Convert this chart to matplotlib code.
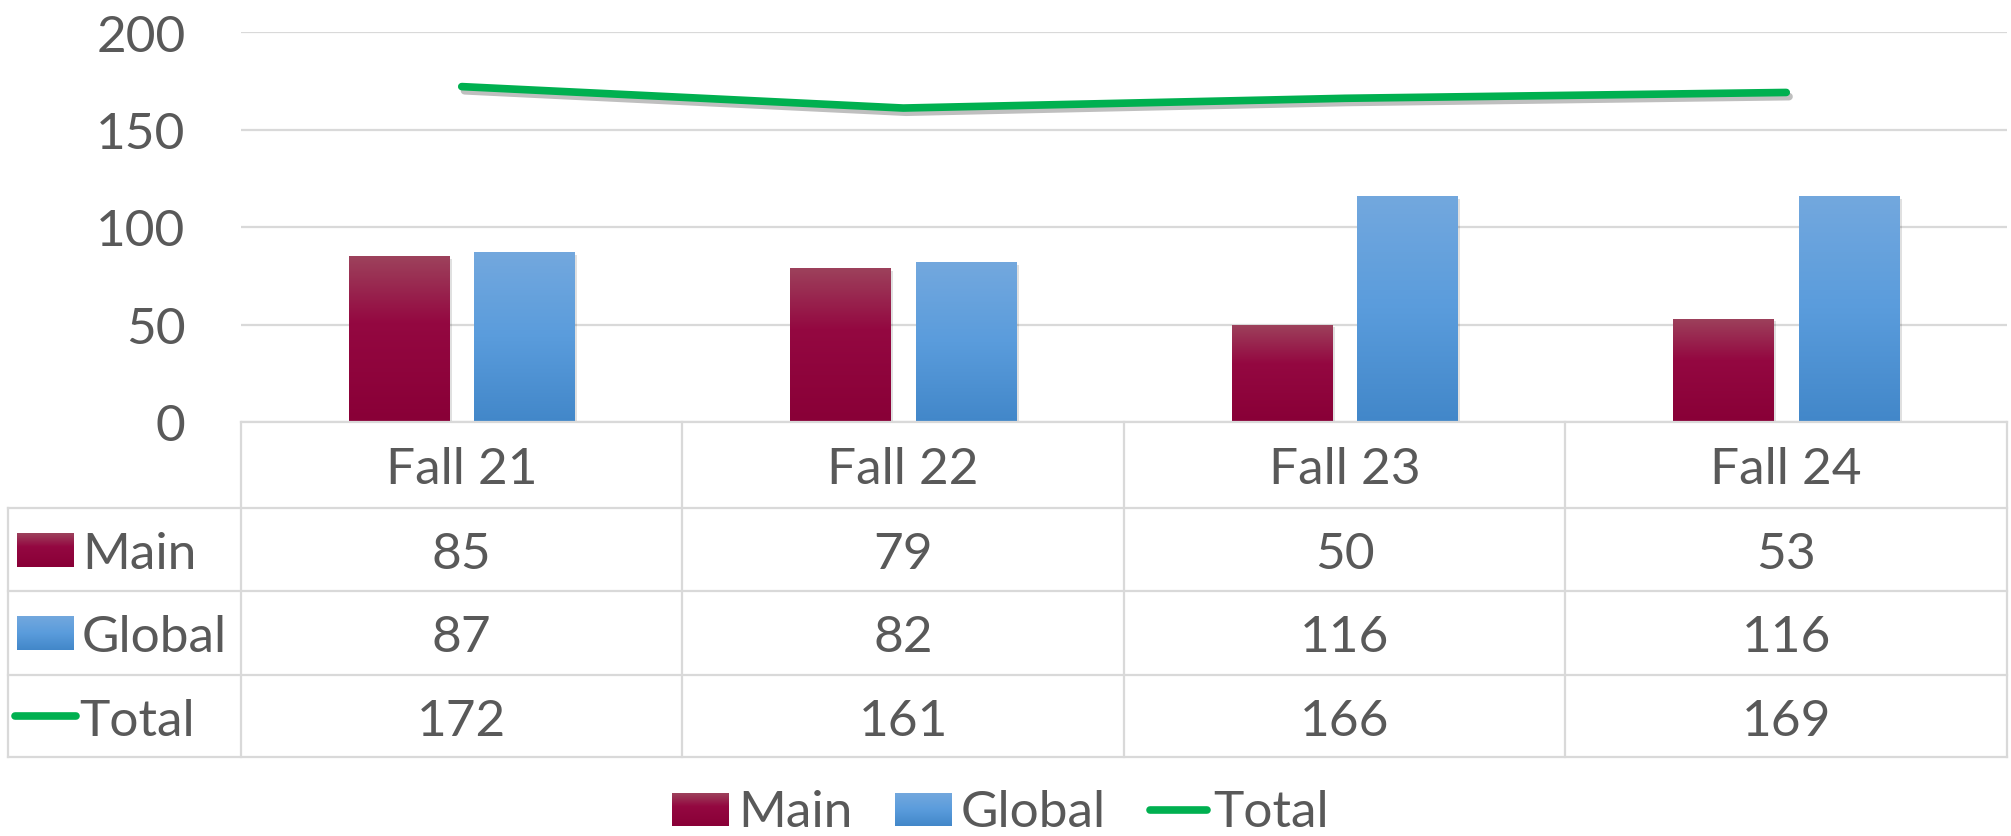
import numpy as np
import matplotlib

matplotlib.use('Agg')
import matplotlib.pyplot as plt
import matplotlib.patheffects as pe

# data
categories = ['Fall 21', 'Fall 22', 'Fall 23', 'Fall 24']
main = [85, 79, 50, 53]
global_ = [87, 82, 116, 116]
total = [172, 161, 166, 169]
series_names = ['Main', 'Global', 'Total']
yticks = [0, 50, 100, 150, 200]

# look
W, H = 2011, 837
TEXT = '#595959'
GRID = '#D9D9D9'
GREEN = '#00B050'
FS = 37          # points, ~37 px cap height at dpi 100
CAP = 37         # cap height in px, for baseline placement
MAIN_STOPS = [(0.0, (157, 66, 92)), (0.4, (148, 8, 65)), (1.0, (137, 0, 55))]
GLOBAL_STOPS = [(0.0, (115, 168, 222)), (0.5, (90, 156, 220)), (1.0, (66, 135, 201))]

plt.rcParams['font.family'] = ['Lato', 'DejaVu Sans']


def gradient(stops, n=256):
    t = np.linspace(0, 1, n)
    pos = [s[0] for s in stops]
    cols = np.array([s[1] for s in stops]) / 255
    img = np.stack([np.interp(t, pos, cols[:, k]) for k in range(3)], axis=1)
    return img[:, None, :]


fig = plt.figure(figsize=(W / 100, H / 100), dpi=100)

# plot area in pixels
left, right, top, base = 241, 2007, 33, 423
ax = fig.add_axes([left / W, 1 - base / H, (right - left) / W, (base - top) / H])
ax.set_xlim(-0.5, len(categories) - 0.5)
ax.set_ylim(0, 200)

x = np.arange(len(categories))
bw, off = 0.227, 0.142
shadow = [pe.SimplePatchShadow(offset=(2, -2), shadow_rgbFace='black', alpha=0.12)]
for vals, stops, dx in [(main, MAIN_STOPS, -off), (global_, GLOBAL_STOPS, off)]:
    bars = ax.bar(x + dx, vals, width=bw, color=np.array(stops[-1][1]) / 255,
                  zorder=3, path_effects=shadow)
    for r in bars:
        im = ax.imshow(gradient(stops), extent=(r.get_x(), r.get_x() + r.get_width(), 0, r.get_height()),
                       origin='upper', aspect='auto', zorder=4, interpolation='bilinear')
        im.set_clip_path(r)

ax.plot(x, total, color=GREEN, lw=5.5, solid_capstyle='round', zorder=6, clip_on=False,
        path_effects=[pe.SimpleLineShadow(offset=(2, -3), alpha=0.25), pe.Normal()])

ax.set_xlim(-0.5, len(categories) - 0.5)
ax.set_ylim(0, 200)
ax.set_yticks(yticks)
ax.set_xticks([])
ax.tick_params(axis='y', length=0, pad=40, labelsize=FS, labelcolor=TEXT)
ax.grid(axis='y', color=GRID, lw=1.6, zorder=0)
ax.set_axisbelow(True)
for s in ax.spines.values():
    s.set_visible(False)

# data table + legend, drawn in pixel coordinates
ov = fig.add_axes([0, 0, 1, 1], facecolor='none')
ov.set_xlim(0, W)
ov.set_ylim(H, 0)
ov.axis('off')

col_w = (right - left) / len(categories)
col_edges = [left + col_w * i for i in range(len(categories) + 1)]
row_edges = [423, 509, 592, 676, 758]
tab_left = 8

ov.plot([left, right], [row_edges[0]] * 2, color=GRID, lw=1.6)
for y in row_edges[1:]:
    ov.plot([tab_left, right], [y, y], color=GRID, lw=1.6)
ov.plot([tab_left, tab_left], [row_edges[1], row_edges[-1]], color=GRID, lw=1.6)
for xe in col_edges:
    ov.plot([xe, xe], [row_edges[0], row_edges[-1]], color=GRID, lw=1.6)


def baseline(y0, y1):
    return (y0 + y1) / 2 + CAP / 2


for i, c in enumerate(categories):
    ov.text(left + col_w * (i + 0.5), baseline(row_edges[0], row_edges[1]), c,
            ha='center', va='baseline', fontsize=FS, color=TEXT)

rows = [main, global_, total]
for r, (name, vals) in enumerate(zip(series_names, rows)):
    y0, y1 = row_edges[r + 1], row_edges[r + 2]
    yc = (y0 + y1) / 2
    for i, v in enumerate(vals):
        ov.text(left + col_w * (i + 0.5), baseline(y0, y1), str(v),
                ha='center', va='baseline', fontsize=FS, color=TEXT)
    if name == 'Total':
        ov.plot([15, 76], [yc, yc], color=GREEN, lw=5.5, solid_capstyle='round')
        tx = 79
    else:
        stops = MAIN_STOPS if name == 'Main' else GLOBAL_STOPS
        ov.imshow(gradient(stops), extent=(17, 74, yc + 17, yc - 17), origin='upper',
                  aspect='auto', interpolation='bilinear')
        tx = 82
    ov.text(tx, baseline(y0, y1), name, ha='left', va='baseline', fontsize=FS, color=TEXT)

# bottom legend
leg_y0, leg_y1 = 794, 827
for name, sx in zip(series_names, [672, 895, 1147]):
    if name == 'Total':
        yc = (leg_y0 + leg_y1) / 2
        ov.plot([sx + 3, sx + 60], [yc, yc], color=GREEN, lw=5.5, solid_capstyle='round')
        tx = sx + 66
    else:
        stops = MAIN_STOPS if name == 'Main' else GLOBAL_STOPS
        ov.imshow(gradient(stops), extent=(sx, sx + 57, leg_y1, leg_y0), origin='upper',
                  aspect='auto', interpolation='bilinear')
        tx = sx + 66
    ov.text(tx, leg_y1, name, ha='left', va='baseline', fontsize=FS, color=TEXT)

ov.set_xlim(0, W)
ov.set_ylim(H, 0)

fig.savefig('out.png', dpi=100, facecolor='white')
